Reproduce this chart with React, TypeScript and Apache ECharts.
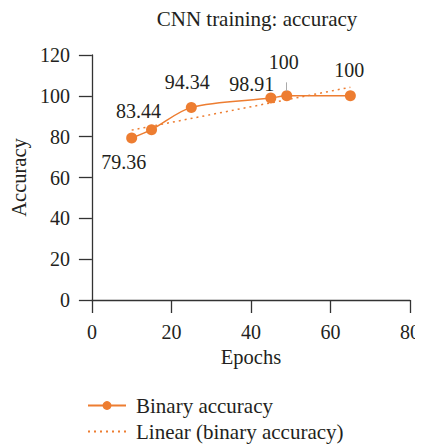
import React, { useEffect, useRef } from "react";
import * as echarts from "echarts";

const epochs = [10, 15, 25, 45, 49, 65];
const accuracy = [79.36, 83.44, 94.34, 98.91, 100, 100];
const trendX = [10, 65];
const trendY = [83.2, 104.2];
const yTicks = [0, 20, 40, 60, 80, 100, 120];
const xTicks = [0, 20, 40, 60, 80];

const FONT = "'Liberation Serif', 'Times New Roman', serif";
const TXT = "#231f20";
const ORANGE = "#ED7D31";

const labelOffsets: [number, number][] = [
  [-8, 24],
  [-13, -19],
  [-4, -25],
  [-19, -14],
  [-3, -34],
  [-1, -26],
];

export default function App() {
  const ref = useRef<HTMLDivElement>(null);
  useEffect(() => {
    if (!ref.current) return;
    const chart = echarts.init(ref.current, undefined, { renderer: "svg" });
    const mainData = epochs.map((x, i) => ({
      value: [x, accuracy[i]],
      label: {
        show: true,
        position: "inside",
        offset: labelOffsets[i],
        formatter: String(accuracy[i]),
      },
    }));
    chart.setOption({
      animation: false,
      textStyle: { fontFamily: FONT, color: TXT },
      title: {
        text: "CNN training: accuracy",
        left: 252,
        textAlign: "center",
        top: 3,
        textStyle: { fontFamily: FONT, fontSize: 21, fontWeight: "normal", color: TXT },
      },
      grid: { left: 90, right: 9, top: 55, bottom: 145, containLabel: false },
      xAxis: {
        type: "value",
        min: xTicks[0],
        max: xTicks[xTicks.length - 1],
        interval: 20,
        name: "Epochs",
        nameLocation: "middle",
        nameGap: 43,
        nameTextStyle: { fontFamily: FONT, fontSize: 20.5, color: TXT },
        axisLine: { show: true, lineStyle: { color: "#333", width: 1.3 } },
        axisTick: { show: true, length: 13, lineStyle: { color: "#333", width: 1.3 } },
        axisLabel: { fontFamily: FONT, fontSize: 20, color: TXT, margin: 22 },
        splitLine: { show: false },
      },
      yAxis: {
        type: "value",
        min: yTicks[0],
        max: yTicks[yTicks.length - 1],
        interval: 20,
        name: "Accuracy",
        nameLocation: "middle",
        nameGap: 62,
        nameTextStyle: { fontFamily: FONT, fontSize: 20.5, color: TXT },
        axisLine: { show: true, lineStyle: { color: "#333", width: 1.3 } },
        axisTick: { show: true, length: 13, lineStyle: { color: "#333", width: 1.3 } },
        axisLabel: { fontFamily: FONT, fontSize: 20, color: TXT, margin: 22 },
        splitLine: { show: false },
      },
      legend: {
        orient: "vertical",
        left: 82,
        top: 390,
        height: 60,
        itemWidth: 38,
        itemHeight: 11,
        itemGap: 5,
        textStyle: { fontFamily: FONT, fontSize: 21, color: TXT, padding: [0, 0, 0, 5] },
        data: ["Binary accuracy", "Linear (binary accuracy)"],
      },
      series: [
        {
          name: "Binary accuracy",
          type: "line",
          smooth: 0.3,
          symbol: "circle",
          symbolSize: 11,
          itemStyle: { color: ORANGE },
          lineStyle: { color: ORANGE, width: 1.5 },
          label: {
            fontFamily: FONT,
            fontSize: 20,
            color: TXT,
          },
          data: mainData,
          markLine: {
            silent: true,
            symbol: "none",
            label: { show: false },
            lineStyle: { color: "#aaa", type: "solid", width: 1 },
            data: [[{ coord: [epochs[4], 102.3] }, { coord: [epochs[4], 106.6] }]],
          },
          z: 3,
        },
        {
          name: "Linear (binary accuracy)",
          type: "line",
          symbol: "none",
          itemStyle: { color: "rgba(0,0,0,0)" },
          lineStyle: { color: ORANGE, width: 1.5, type: [2, 4] },
          data: trendX.map((x, i) => [x, trendY[i]]),
          z: 2,
        },
      ],
    });
    return () => chart.dispose();
  }, []);
  return <div ref={ref} style={{ width: 423, height: 445, marginLeft: -8, marginTop: -8 }} />;
}
